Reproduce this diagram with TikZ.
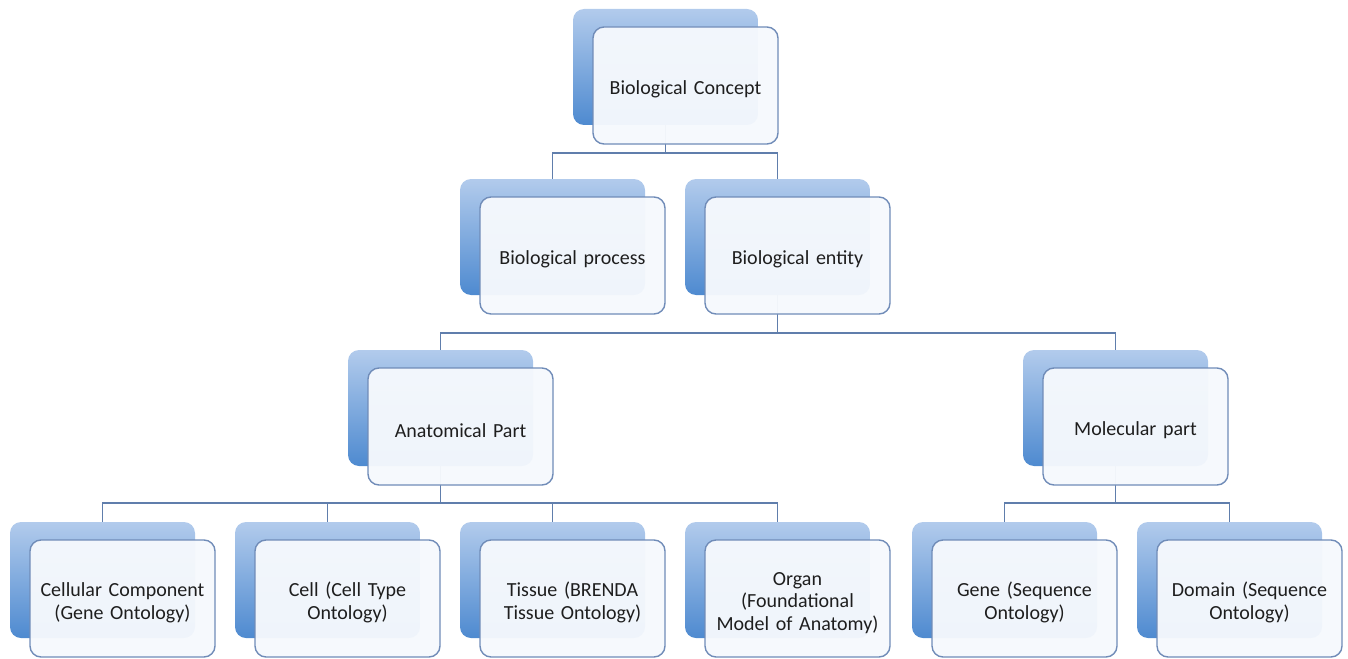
\documentclass[tikz,border=0pt]{standalone}
\usepackage{fontspec}
\setmainfont{Carlito}
\usetikzlibrary{backgrounds}
\definecolor{linec}{RGB}{96,126,172}
\definecolor{frontdraw}{RGB}{112,140,184}
\definecolor{frontfill}{RGB}{246,249,253}
\definecolor{backtop}{RGB}{178,203,236}
\definecolor{backbot}{RGB}{78,138,208}
\definecolor{txt}{RGB}{30,30,30}
\tikzset{
  backbox/.style={rectangle, rounded corners=11pt, minimum width=185pt, minimum height=116pt,
    inner sep=0pt, top color=backtop, bottom color=backbot, draw=none},
  frontbox/.style={rectangle, rounded corners=11pt, minimum width=185pt, minimum height=117pt,
    inner sep=0pt, draw=frontdraw, line width=1.4pt, fill=frontfill, fill opacity=0.96, text opacity=1,
    text=txt, align=center, font=\fontsize{20pt}{22.5pt}\selectfont, text width=180pt,
    execute at begin node={\rule{0pt}{22pt}}},
  conn/.style={draw=linec, line width=1.9pt}
}
\newcommand{\boxpair}[4]{%
  \node[backbox] (#1-b) at (#2+92.5, #3+58) {};
  \node[frontbox] (#1) at (#2+112.5, #3+76.5) {#4};
}
\begin{document}
\begin{tikzpicture}[x=1pt,y=-1pt]
\useasboundingbox (0,0) rectangle (1348,658);
\boxpair{concept}{573}{9}{Biological Concept}
\boxpair{process}{460}{179}{Biological process}
\boxpair{entity}{685}{179}{Biological entity}
\boxpair{anat}{348}{350}{Anatomical Part}
\boxpair{mol}{1023}{350}{Molecular part}
\boxpair{cellcomp}{10}{522}{Cellular Component\\(Gene Ontology)}
\boxpair{cell}{235}{522}{Cell (Cell Type\\Ontology)}
\boxpair{tissue}{460}{522}{Tissue (BRENDA\\Tissue Ontology)}
\boxpair{organ}{685}{522}{Organ\\(Foundational\\Model of Anatomy)}
\boxpair{gene}{912}{522}{Gene (Sequence\\Ontology)}
\boxpair{domain}{1137}{522}{Domain (Sequence\\Ontology)}
\coordinate (barA) at (0,153);
\coordinate (barB) at (0,333);
\coordinate (barC) at (0,503);
\begin{scope}[on background layer]
  \foreach \c in {process,entity}
    \draw[conn] (concept-b.center) -- (concept-b.center |- barA) -| (\c-b.center);
  \foreach \c in {anat,mol}
    \draw[conn] (entity-b.center) -- (entity-b.center |- barB) -| (\c-b.center);
  \foreach \c in {cellcomp,cell,tissue,organ}
    \draw[conn] (anat-b.center) -- (anat-b.center |- barC) -| (\c-b.center);
  \foreach \c in {gene,domain}
    \draw[conn] (mol-b.center) -- (mol-b.center |- barC) -| (\c-b.center);
\end{scope}
\end{tikzpicture}
\end{document}
